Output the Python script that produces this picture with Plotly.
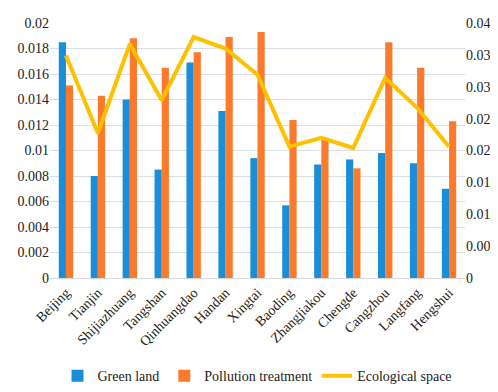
import plotly.graph_objects as go

cities = ["Beijing", "Tianjin", "Shijiazhuang", "Tangshan", "Qinhuangdao", "Handan",
          "Xingtai", "Baoding", "Zhangjiakou", "Chengde", "Cangzhou", "Langfang", "Hengshui"]
green_land = [0.0185, 0.0080, 0.0140, 0.0085, 0.0169, 0.0131, 0.0094, 0.0057, 0.0089,
              0.0093, 0.0098, 0.0090, 0.0070]
pollution_treatment = [0.0151, 0.0143, 0.0188, 0.0165, 0.0177, 0.0189, 0.0193, 0.0124,
                       0.0110, 0.0086, 0.0185, 0.0165, 0.0123]
ecological_space = [0.0349, 0.0227, 0.0367, 0.0279, 0.0378, 0.0360, 0.0319, 0.0206,
                    0.0220, 0.0204, 0.0314, 0.0267, 0.0206]

left_ticks = [0, 0.002, 0.004, 0.006, 0.008, 0.01, 0.012, 0.014, 0.016, 0.018, 0.02]
left_labels = ["0", "0.002", "0.004", "0.006", "0.008", "0.01", "0.012", "0.014", "0.016", "0.018", "0.02"]
right_ticks = [0, 0.005, 0.01, 0.015, 0.02, 0.025, 0.03, 0.035, 0.04]
right_labels = ["0", "0.005", "0.01", "0.015", "0.02", "0.025", "0.03", "0.035", "0.04"]

font = dict(family="Liberation Serif, Times New Roman, serif", size=14, color="#222222")

fig = go.Figure()
fig.add_trace(go.Bar(x=cities, y=green_land, name="Green land",
                     marker=dict(color="#1a8fd8", line=dict(width=0))))
fig.add_trace(go.Bar(x=cities, y=pollution_treatment, name="Pollution treatment",
                     marker=dict(color="#fb7a2c", line=dict(width=0))))
fig.add_trace(go.Scatter(x=cities, y=ecological_space, name="Ecological space", yaxis="y2",
                         mode="lines", line=dict(color="#ffc000", width=4)))

fig.update_layout(
    width=498, height=392,
    margin=dict(l=42, r=38, t=8, b=117),
    paper_bgcolor="white", plot_bgcolor="white",
    font=font,
    barmode="group", bargap=0.55, bargroupgap=0,
    showlegend=True,
    legend=dict(orientation="h", x=0.5, xanchor="center", y=-0.385, yanchor="middle",
                font=dict(family=font["family"], size=14, color="#222222"),
                itemwidth=30, traceorder="normal"),
    xaxis=dict(tickangle=-45, showgrid=False, showline=True, linecolor="#d9d9d9",
               ticks="", tickfont=font),
    yaxis=dict(range=[0, 0.02], tickvals=left_ticks, ticktext=left_labels,
               showgrid=True, gridcolor="#d9dee8", gridwidth=1, zeroline=False,
               showline=False, ticks="", tickfont=font, ticklabeloverflow="allow"),
    yaxis2=dict(range=[0, 0.04], tickvals=right_ticks, ticktext=right_labels,
                overlaying="y", side="right", showgrid=False, zeroline=False,
                showline=False, ticks="", tickfont=font, ticklabeloverflow="allow"),
)

fig.write_html("out.html")
